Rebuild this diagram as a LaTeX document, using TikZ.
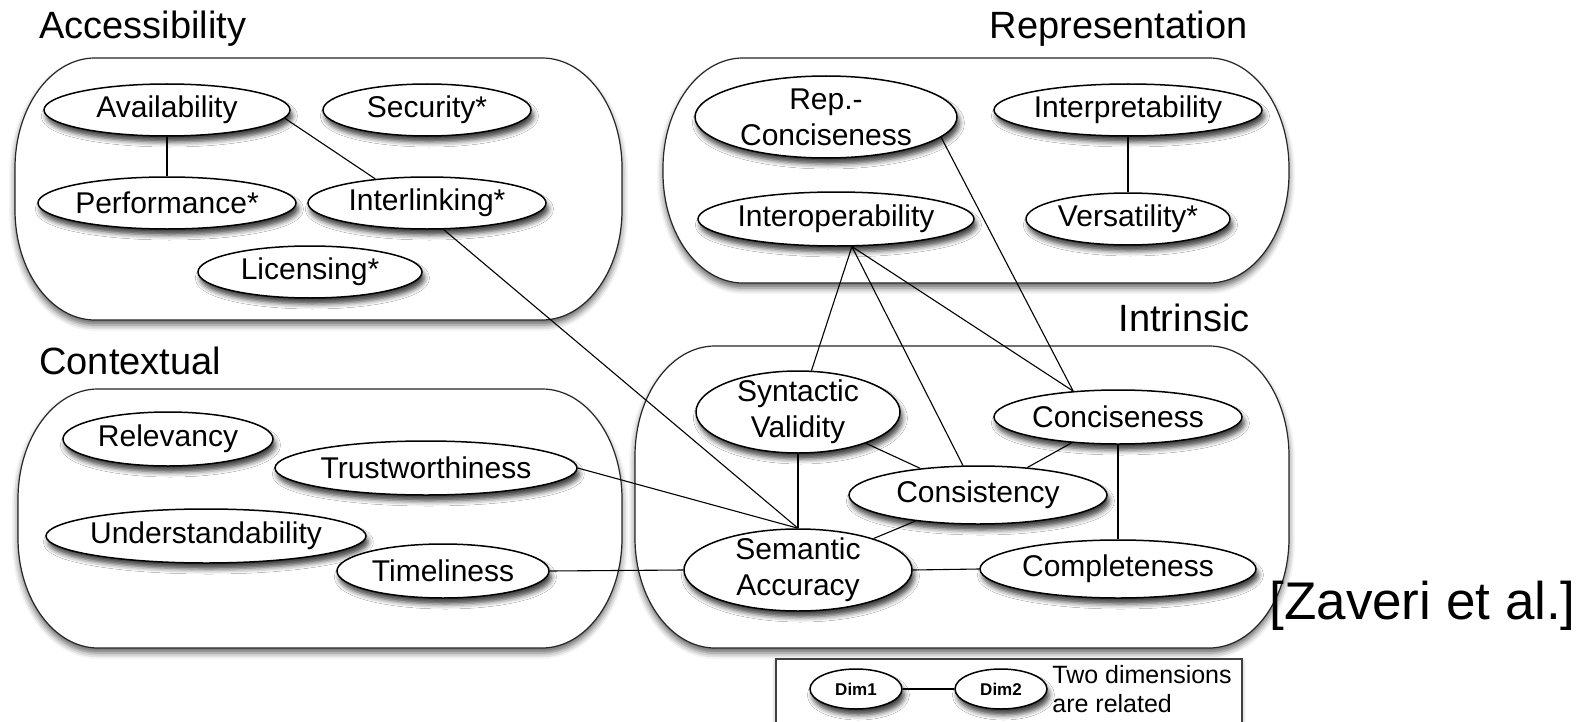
\documentclass[tikz,border=0pt]{standalone}
\usepackage{fontspec}
\setmainfont{Liberation Sans}
\usetikzlibrary{shapes.geometric, shadows.blur}

% rounded group frame: x1, y1 (top left), x2, y2 (bottom right)
\newcommand\dimgroup[4]{%
  \draw[group] ({#1+80},#2) -- ({#3-80},#2)
    arc[start angle=-90, end angle=0, x radius=80, y radius=110] -- (#3,{#4-110})
    arc[start angle=0, end angle=90, x radius=80, y radius=110] -- ({#1+80},#4)
    arc[start angle=90, end angle=180, x radius=80, y radius=110] -- (#1,{#2+110})
    arc[start angle=180, end angle=270, x radius=80, y radius=110] -- cycle;}

\begin{document}
\begin{tikzpicture}[x=0.5pt, y=-0.5pt,
  group/.style={draw=black!85, line width=0.6pt, fill=white,
    blur shadow={shadow xshift=0pt, shadow yshift=-2.5pt, shadow blur radius=3pt, shadow opacity=60}},
  dim/.style={ellipse, draw, line width=0.75pt, fill=white, inner sep=-4pt, align=center,
    font=\fontsize{15}{18}\selectfont,
    blur shadow={shadow xshift=1.2pt, shadow yshift=-3pt, shadow blur radius=2.5pt, shadow opacity=75}},
  radii/.style 2 args={minimum width=#1pt, minimum height=#2pt},
  title/.style={font=\fontsize{19}{22}\selectfont, inner sep=0pt},
  rel/.style={line width=0.55pt}
]
\useasboundingbox (0,0) rectangle (1594,722);
\clip (0,0) rectangle (1594,722);

% groups
\dimgroup{15}{58}{622}{320}
\dimgroup{663}{58}{1289}{283}
\dimgroup{18}{389}{622}{648}
\dimgroup{635}{346}{1289}{648}

\node[title, anchor=west] (acctitle) at (39,29) {Accessibility};
\node[title, anchor=east] (reptitle) at (1248,29) {Representation};
\node[title, anchor=east] (inttitle) at (1250,318) {Intrinsic};
\node[title, anchor=west] (contitle) at (39,361) {Contextual};

% accessibility
\node[dim, radii={123}{26}] (avail) at (167,110) {Availability};
\node[dim, radii={104}{26}] (secur) at (427,110) {Security*};
\node[dim, radii={129}{26}] (perf) at (167,203) {Performance*};
\node[dim, radii={119}{26}] (interl) at (427,203) {Interlinking*};
\node[dim, radii={112}{26}] (licen) at (310,272) {Licensing*};

% representation
\node[dim, radii={131}{41}] (repconc) at (826,117) {Rep.-\\Conciseness};
\node[dim, radii={134}{26}] (interp) at (1128,110) {Interpretability};
\node[dim, radii={138}{27}] (interop) at (836,219) {Interoperability};
\node[dim, radii={102}{26}] (versat) at (1128,219) {Versatility*};

% intrinsic
\node[dim, radii={102}{41}] (synval) at (798,412) {Syntactic\\Validity};
\node[dim, radii={124}{27}] (concise) at (1118,417) {Conciseness};
\node[dim, radii={129}{29}] (consis) at (978,495) {Consistency};
\node[dim, radii={114}{41}] (semacc) at (798,570) {Semantic\\Accuracy};
\node[dim, radii={138}{29}] (complete) at (1118,569) {Completeness};

% contextual
\node[dim, radii={105}{27}] (relev) at (168,439) {Relevancy};
\node[dim, radii={151}{27}] (trust) at (426,468) {Trustworthiness};
\node[dim, radii={160}{27}] (underst) at (206,536) {Understandability};
\node[dim, radii={106}{27}] (timel) at (443,571) {Timeliness};

\node[anchor=west, inner sep=0pt, font=\fontsize{26.5}{30}\selectfont] (cite) at (1269,606) {[Zaveri et al.]};

% legend
\draw[draw=black!75, line width=0.6pt, fill=white,
  blur shadow={shadow xshift=0pt, shadow yshift=-1.5pt, shadow blur radius=2pt, shadow opacity=40}]
  (776,659) rectangle (1242,745);
\node[dim, radii={46}{20}, font=\bfseries\fontsize{8.5}{10}\selectfont] (dim1) at (856,689) {Dim1};
\node[dim, radii={46}{20}, font=\bfseries\fontsize{8.5}{10}\selectfont] (dim2) at (1001,689) {Dim2};
\node[anchor=west, align=left, inner sep=0pt, font=\fontsize{12.5}{14.5}\selectfont] (legtext) at (1052,689) {Two dimensions\\are related};

% relations
\draw[rel] (avail.south) -- (perf.north);
\draw[rel] (avail.-4) -- (interl.155);
\draw[rel] (interl.-58) -- (semacc.north);
\draw[rel] (trust.east) -- (semacc.north);
\draw[rel] (timel.east) -- (semacc.west);
\draw[rel] (interp.south) -- (versat.north);
\draw[rel] (repconc.-10) -- (concise.150);
\draw[rel] (interop.-60) -- (synval.72);
\draw[rel] (interop.-60) -- (consis.117);
\draw[rel] (interop.-60) -- (concise.150);
\draw[rel] (synval) -- (consis);
\draw[rel] (synval.south) -- (semacc.north);
\draw[rel] (concise) -- (consis);
\draw[rel] (concise.south) -- (complete.north);
\draw[rel] (consis) -- (semacc);
\draw[rel] (semacc.east) -- (complete.west);
\draw[rel] (dim1) -- (dim2);
\end{tikzpicture}
\end{document}
